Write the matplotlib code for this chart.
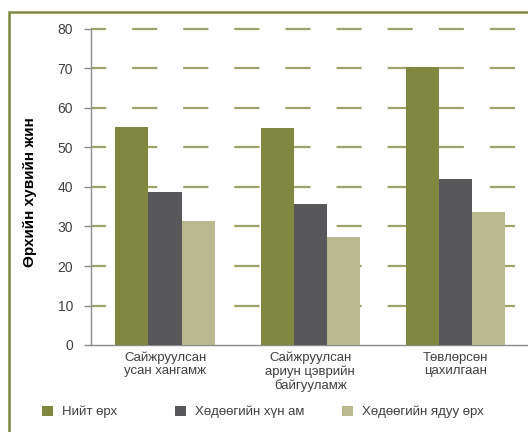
import matplotlib
matplotlib.use('Agg')
import numpy as np
import matplotlib.pyplot as plt
from matplotlib.patches import Rectangle, Patch

plt.rcParams['font.family'] = ['Liberation Sans', 'DejaVu Sans']

# --------------------------------------------------------------------------
# Data
# --------------------------------------------------------------------------
categories = ['Сайжруулсан\nусан хангамж',
              'Сайжруулсан\nариун цэврийн\nбайгууламж',
              'Төвлөрсөн\nцахилгаан']
series_names = ['Нийт өрх', 'Хөдөөгийн хүн ам', 'Хөдөөгийн ядуу өрх']
total_hh   = [55.2, 54.9, 70.4]
rural_pop  = [38.7, 35.7, 42.0]
rural_poor = [31.4, 27.3, 33.7]
yticks = [0, 10, 20, 30, 40, 50, 60, 70, 80]
ylabel = 'Өрхийн хувийн жин'

colors = ['#7f883e', '#58585a', '#b8b98f']
grid_color = '#9ea36a'
text_color = '#404040'

W, H = 528, 432
fig = plt.figure(figsize=(W / 100, H / 100), dpi=100)

# outer olive frame (runs off the right/bottom edge like the source crop)
fig.patches.append(Rectangle((9 / W, -0.1), 1.2, 1 - 12 / H + 0.1,
                             transform=fig.transFigure, fill=False,
                             edgecolor='#7f883e', lw=1.8))

ax = fig.add_axes([91 / W, 87 / H, (W - 91) / W, (345 - 29) / H])

x = np.arange(len(categories))
bw = 0.228
for i, (vals, c) in enumerate(zip([total_hh, rural_pop, rural_poor], colors)):
    ax.bar(x + (i - 1) * bw, vals, width=bw, color=c, zorder=3)

ax.set_xlim(-0.51, 2.50)
ax.set_ylim(0, 80)
ax.set_yticks(yticks)
ax.set_xticks(x)
ax.set_xticklabels(categories, fontsize=9.5, color=text_color, linespacing=1.1)
ax.tick_params(axis='x', length=0, pad=5)
ax.tick_params(axis='y', length=5, width=1, color='#8c8c8c',
               labelsize=10, labelcolor=text_color, pad=8)

for yv in yticks[1:]:
    ax.axhline(yv, color=grid_color, lw=1.6, clip_on=False,
               linestyle=(4.5, (11.3, 11.7)), zorder=1)

for s in ['top', 'right']:
    ax.spines[s].set_visible(False)
for s in ['left', 'bottom']:
    ax.spines[s].set_color('#8c8c8c')
    ax.spines[s].set_linewidth(1.0)

ax.set_ylabel(ylabel, fontsize=11, fontweight='bold', color='black')
ax.yaxis.set_label_coords(-54 / (W - 91), 0.485)

# legend entries placed individually
leg_x = [42, 175, 342]
for name, c, lx in zip(series_names, colors, leg_x):
    fig.legend(handles=[Patch(facecolor=c, edgecolor='none')], labels=[name],
               loc='center left', bbox_to_anchor=(lx / W, 1 - 412 / H),
               frameon=False, fontsize=9.5, handlelength=0.8, handleheight=0.8,
               handletextpad=0.75, borderpad=0, borderaxespad=0,
               labelcolor=text_color)

fig.savefig('out.png', dpi=100)
